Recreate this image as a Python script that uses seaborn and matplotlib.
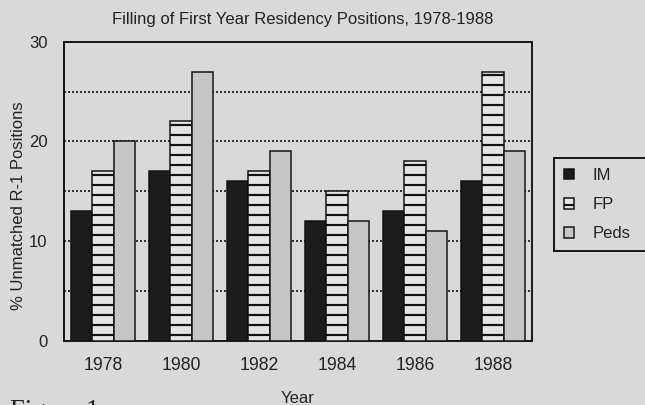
import matplotlib
matplotlib.use("Agg")
import matplotlib.pyplot as plt
import numpy as np
import pandas as pd
import seaborn as sns
from matplotlib.patches import Patch
from matplotlib.ticker import MultipleLocator, FixedLocator

# data
years = ["1978", "1980", "1982", "1984", "1986", "1988"]
im_vals = [13, 17, 16, 12, 13, 16]
fp_vals = [17, 22, 17, 15, 18, 27]
peds_vals = [20, 27, 19, 12, 11, 19]
series_names = ["IM", "FP", "Peds"]

bg = "#d9d9d9"
ink = "#222222"
face_colors = {"IM": "#1c1c1c", "FP": "#e4e4e4", "Peds": "#c6c6c6"}
hatches = {"IM": "", "FP": "--", "Peds": ""}


def make_chart():
    sns.set_theme(style="white")
    plt.rcParams["font.family"] = ["Liberation Sans", "DejaVu Sans"]
    plt.rcParams["hatch.linewidth"] = 1.3

    df = pd.DataFrame({
        "Year": years * 3,
        "Pct": im_vals + fp_vals + peds_vals,
        "Specialty": [s for s in series_names for _ in years],
    })

    W, H = 645, 405
    fig = plt.figure(figsize=(W / 120, H / 120), dpi=120, facecolor=bg)
    ax = fig.add_axes([64 / W, 1 - 340.7 / H, (532 - 64) / W, (340.7 - 41.7) / H])
    ax.set_facecolor(bg)

    sns.barplot(data=df, x="Year", y="Pct", hue="Specialty", hue_order=series_names,
                palette=face_colors, width=0.81, edgecolor="#111111", linewidth=0.9,
                saturation=1, legend=False, ax=ax, zorder=3)

    # patterns per series
    for name, cont in zip(series_names, ax.containers):
        for bar in cont:
            bar.set_hatch(hatches[name])

    ax.set_xlim(-0.5, 5.5)
    ax.set_ylim(0, 30)

    # y axis: labels every 10, dotted grid every 5
    ax.yaxis.set_major_locator(MultipleLocator(10))
    ax.yaxis.set_minor_locator(MultipleLocator(5))
    ax.grid(False)
    for v in [5, 10, 15, 20, 25]:
        ax.axhline(v, color="#333333", lw=1.2, ls=(0, (1, 1)), zorder=1)
    ax.tick_params(axis="y", which="major", direction="out", length=3, width=1,
                   labelsize=10, pad=7, colors=ink)
    ax.tick_params(axis="y", which="minor", length=0)

    # x axis: labels at group centres, small ticks between groups
    ax.xaxis.set_minor_locator(FixedLocator(np.arange(0.5, 5.5, 1.0)))
    ax.tick_params(axis="x", which="major", length=0, labelsize=10.6, pad=10,
                   colors=ink)
    ax.tick_params(axis="x", which="minor", direction="out", length=3, width=1.2,
                   color=ink)

    for sp in ax.spines.values():
        sp.set_visible(True)
        sp.set_color("#1a1a1a")
        sp.set_linewidth(1.2)

    ax.set_xlabel("")
    ax.set_ylabel("")
    fig.text(298 / W, 1 - 403 / H, "Year", fontsize=10, color=ink,
             ha="center", va="baseline")
    fig.text(19 / W, 1 - 206 / H, "% Unmatched R-1 Positions", fontsize=10,
             color=ink, rotation=90, ha="center", va="center")
    fig.text(303 / W, 1 - 24 / H, "Filling of First Year Residency Positions, 1978-1988",
             fontsize=10, color=ink, ha="center", va="baseline")

    # legend box runs past the right edge of the scan
    handles = [Patch(facecolor=face_colors[n], edgecolor="#111111", hatch=hatches[n],
                     linewidth=0.9, label=n) for n in series_names]
    leg = fig.legend(handles=handles, loc="upper left", mode="expand",
                     bbox_to_anchor=(554 / W, 1 - 258 / H, 100 / W, 100 / H),
                     borderaxespad=0, fontsize=10, handlelength=0.6, handleheight=0.6,
                     handletextpad=1.1, labelspacing=0.85, borderpad=0.6,
                     fancybox=False, framealpha=1, facecolor=bg, edgecolor="#1a1a1a")
    leg.get_frame().set_linewidth(1.2)
    for t in leg.get_texts():
        t.set_color(ink)

    # caption cut off at the bottom of the scan
    fig.text(10 / W, 1 - 418 / H, "Figure 1", family="Liberation Serif",
             fontsize=16, va="baseline", ha="left", color=ink)

    fig.savefig("out.png", dpi=120, facecolor=bg)
    plt.close(fig)


if __name__ == "__main__":
    make_chart()
